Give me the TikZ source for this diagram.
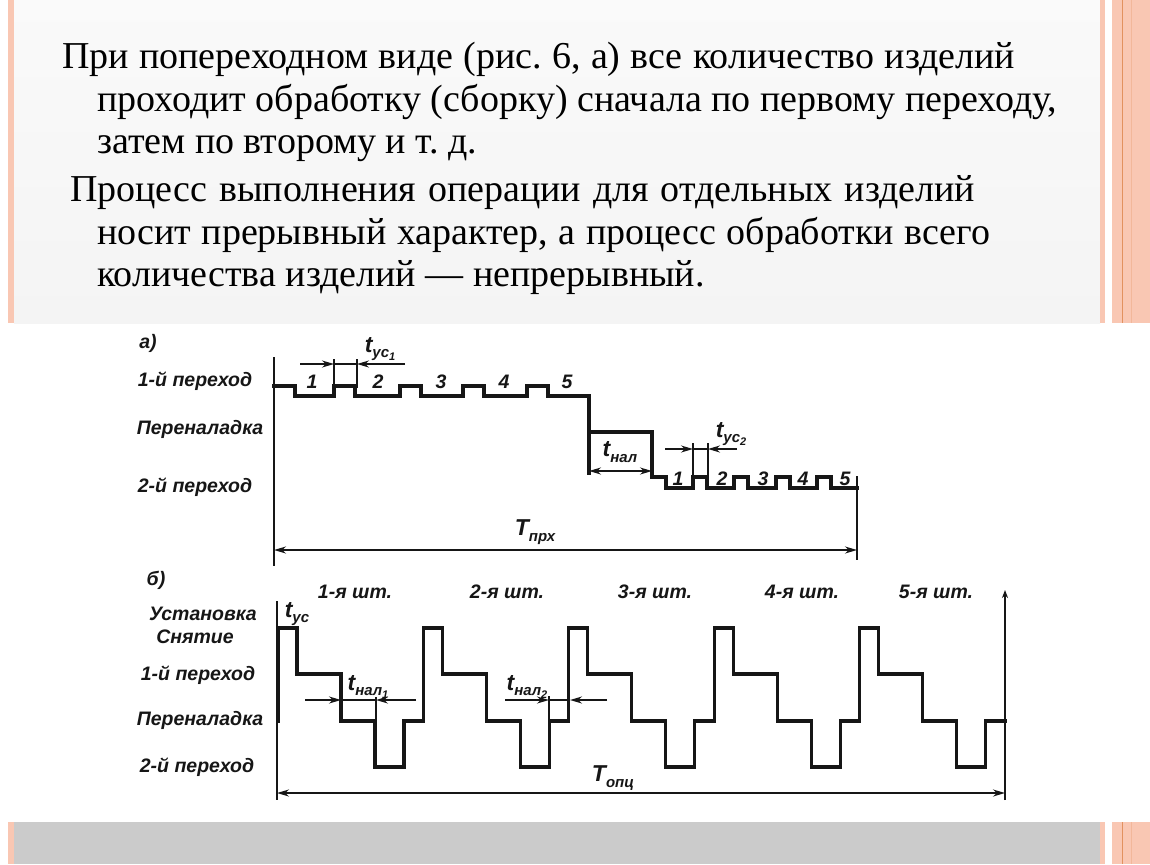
\documentclass[tikz,border=0pt]{standalone}
\usepackage{fontspec}
\setmainfont{Liberation Serif}
\newfontfamily\scanfont{Liberation Sans}
\usetikzlibrary{arrows.meta,calc,positioning}
\frenchspacing
\definecolor{slidegray}{RGB}{244,244,244}
\definecolor{bandgray}{RGB}{203,203,203}
\definecolor{stripepink}{RGB}{249,199,179}
\definecolor{stripeline}{RGB}{226,145,95}
\definecolor{inkblack}{RGB}{22,22,22}
\newcommand{\tlab}[3]{#1\raisebox{-0.45ex}{\fontsize{15}{15}\selectfont #2\ifx&#3&\else\raisebox{-0.35ex}{\fontsize{11}{11}\selectfont #3}\fi}}
\newcommand{\slideline}[5]{%
  \node[slidetext] (#1) at (#2,#3) {\makebox[#4pt][s]{#5}};%
}

\begin{document}
\begin{tikzpicture}[x=1pt,y=-1pt,
  slidetext/.style={anchor=base west,inner sep=0pt,font=\fontsize{38}{44}\selectfont},
  scanlbl/.style={inner sep=0pt,font=\scanfont\bfseries\itshape\fontsize{19.5}{24}\selectfont,text=inkblack},
  tlbl/.style={scanlbl,font=\scanfont\bfseries\itshape\fontsize{23}{24}\selectfont},
  wave/.style={draw=inkblack,line width=3.2pt,line join=miter,line cap=rect},
  axis/.style={draw=inkblack,line width=2.6pt},
  tick/.style={draw=inkblack,line width=2.2pt},
  dimline/.style={draw=inkblack,line width=1.6pt},
  dimarrow/.style={dimline,-{Stealth[length=12pt,width=7pt]}},
  dimboth/.style={dimline,{Stealth[length=12pt,width=7pt]}-{Stealth[length=12pt,width=7pt]}}]
  \useasboundingbox (0,0) rectangle (1150,864);
  \fill[white] (0,0) rectangle (1150,864);
  \shade[top color=white!98!black,bottom color=slidegray] (14,0) rectangle (1100,323);
  \fill[bandgray] (14,822) rectangle (1100,864);
  \foreach \ya/\yb in {0/323,822/864}{
    \fill[stripepink] (8,\ya) rectangle (14,\yb);
    \fill[stripepink] (1100,\ya) rectangle (1105,\yb);
    \fill[stripepink] (1112,\ya) rectangle (1150,\yb);
    \draw[stripeline,line width=1pt] (1122,\ya) -- (1122,\yb);
    \draw[stripepink!70!stripeline,line width=0.8pt] (1131,\ya) -- (1131,\yb);
  }
  \slideline{lineA}{62}{69}{953}{При попереходном виде (рис. 6, а) все количество изделий}
  \slideline{lineB}{97}{111}{960}{проходит обработку (сборку) сначала по первому переходу,}
  \node[slidetext] (lineC) at (97,153) {затем по второму и т. д.};
  \slideline{lineD}{70}{201}{905}{Процесс выполнения операции для отдельных изделий}
  \slideline{lineE}{97}{244}{893}{носит прерывный характер, а процесс обработки всего}
  \node[slidetext] (lineF) at (97,286) {количества изделий — непрерывный.};

  % a) poperekhodnyj
  \node[scanlbl] (labA) at (148,343) {а)};
  \node[scanlbl] (rowAone) at (195,381) {1-й переход};
  \node[scanlbl] (rowAnal) at (200,429) {Переналадка};
  \node[scanlbl] (rowAtwo) at (195,487) {2-й переход};
  \coordinate (axAtop) at (274,357);
  \coordinate (axAbot) at (274,566);
  \coordinate (endAtop) at (857,476);
  \coordinate (endAbot) at (857,560);
  \draw[axis] (axAtop) -- (axAbot);
  \draw[axis] (endAtop) -- (endAbot);
  \draw[wave] (274,386) \foreach \s/\e in {274/334,334/400,400/463,463/527,527/589}{
    -- (\s,386) -- (\s+21,386) -- (\s+21,396) -- (\e,396)} -- (589,473);
  \draw[wave] (589,432) -- (652,432) -- (652,477)
    \foreach \s/\e in {652/693,693/734,734/776,776/817,817/857}{
    -- (\s,477) -- (\s+14,477) -- (\s+14,488) -- (\e,488)};
  \foreach \n/\x in {1/312,2/378,3/441,4/504,5/567}
    \node[scanlbl] (numA\n) at (\x,382) {\n};
  \foreach \n/\x in {1/678,2/722,3/763,4/803,5/845}
    \node[scanlbl] (numB\n) at (\x,479) {\n};
  \coordinate (nalL) at (589,471);
  \coordinate (nalR) at (652,471);
  \draw[dimboth] (nalL) -- (nalR);
  \node[tlbl] (tnal) at (620,452) {\tlab{t}{нал}{}};
  \coordinate (usOneL) at (334,364);
  \coordinate (usOneR) at (357,364);
  \draw[tick] (334,359) -- (334,388);
  \draw[tick] (357,359) -- (357,388);
  \draw[dimarrow] (300,364) -- (usOneL);
  \draw[dimarrow] (405,364) -- (usOneR);
  \draw[dimline] (usOneL) -- (usOneR);
  \node[tlbl] (tusOne) at (380,349) {\tlab{t}{ус}{1}};
  \coordinate (usTwoL) at (693,449);
  \coordinate (usTwoR) at (708,449);
  \draw[tick] (693,443) -- (693,479);
  \draw[tick] (708,443) -- (708,479);
  \draw[dimarrow] (665,449) -- (usTwoL);
  \draw[dimarrow] (737,449) -- (usTwoR);
  \draw[dimline] (usTwoL) -- (usTwoR);
  \node[tlbl] (tusTwo) at (731,434) {\tlab{t}{ус}{2}};
  \draw[dimboth] (274,550) -- (857,550);
  \node[tlbl] (tprx) at (535,532) {\tlab{T}{прх}{}};

  % b) posledovatelnyj po shtukam
  \node[scanlbl] (labB) at (156,580) {б)};
  \foreach \n/\x in {1/355,2/507,3/655,4/802,5/936}
    \node[scanlbl] (pc\n) at (\x,592) {\n-я шт.};
  \node[scanlbl] (rowBset) at (203,614) {Установка};
  \node[scanlbl] (rowBoff) at (195,637) {Снятие};
  \node[scanlbl] (rowBone) at (198,675) {1-й переход};
  \node[scanlbl] (rowBnal) at (200,720) {Переналадка};
  \node[scanlbl] (rowBtwo) at (197,767) {2-й переход};
  \coordinate (axBtop) at (277,601);
  \coordinate (axBbot) at (277,800);
  \coordinate (endBtop) at (1005,590);
  \coordinate (endBbot) at (1005,800);
  \draw[axis] (axBtop) -- (axBbot);
  \draw[axis,-{Stealth[length=8pt,width=6pt]}] (endBbot) -- (endBtop);
  \foreach \k in {0,...,4}{
    \pgfmathsetmacro{\s}{278+145.4*\k}
    \draw[wave] (\s,721) -- (\s,628) -- ++(19,0) -- ++(0,46) -- ++(44,0)
      -- ++(0,47) -- ++(34,0) -- ++(0,46) -- ++(29,0) -- ++(0,-46) -- ++(19.4,0);
  }
  \node[tlbl] (tus) at (297,614) {\tlab{t}{ус}{}};
  \coordinate (nalOneL) at (341,700);
  \coordinate (nalOneR) at (376,700);
  \draw[tick] (376,697) -- (376,722);
  \draw[dimarrow] (305,700) -- (nalOneL);
  \draw[dimarrow] (416,700) -- (nalOneR);
  \draw[dimline] (nalOneL) -- (nalOneR);
  \node[tlbl] (tnalOne) at (368,687) {\tlab{t}{нал}{1}};
  \coordinate (nalTwoL) at (549,700);
  \coordinate (nalTwoR) at (570,700);
  \draw[tick] (549,696) -- (549,722);
  \draw[dimarrow] (505,700) -- (nalTwoL);
  \draw[dimarrow] (607,700) -- (nalTwoR);
  \draw[dimline] (nalTwoL) -- (nalTwoR);
  \node[tlbl] (tnalTwo) at (527,687) {\tlab{t}{нал}{2}};
  \draw[dimboth] (axBbot |- 0,793) -- (endBbot |- 0,793);
  \node[tlbl] (topc) at (613,778) {\tlab{T}{опц}{}};
\end{tikzpicture}
\end{document}
